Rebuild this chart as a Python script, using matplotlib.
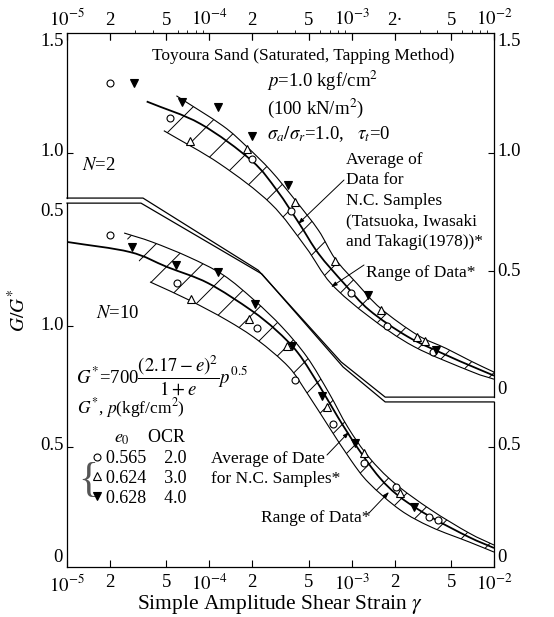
import numpy as np
import matplotlib
matplotlib.use("Agg")
from matplotlib import pyplot as plt
from matplotlib.path import Path
from matplotlib.patches import PathPatch

plt.rcParams['font.family'] = ['Liberation Serif', 'DejaVu Serif']
plt.rcParams['mathtext.fontset'] = 'stix'
plt.rcParams['hatch.linewidth'] = 0.7

# ---------------- values ----------------
# N = 2 (upper panel), G/G* against strain
up_avg_x = [3.63e-5, 8.65e-5, 1.98e-4, 2.99e-4, 4.29e-4, 5.85e-4, 8.85e-4,
            1.33e-3, 2.48e-3, 4.60e-3, 6.95e-3, 1.0e-2]
up_avg_y = [1.215, 1.121, 0.966, 0.840, 0.700, 0.574, 0.448,
            0.336, 0.224, 0.147, 0.100, 0.060]
up_hi_x = [5.87e-5, 1.24e-4, 1.83e-4, 2.70e-4, 4.03e-4, 5.85e-4, 7.64e-4,
           1.09e-3, 1.60e-3, 2.90e-3, 4.60e-3, 6.95e-3, 1.0e-2]
up_hi_y = [1.239, 1.113, 1.025, 0.924, 0.798, 0.672, 0.553,
           0.448, 0.343, 0.231, 0.175, 0.120, 0.075]
up_lo_x = [4.79e-5, 1.18e-4, 2.70e-4, 4.75e-4, 7.16e-4, 1.33e-3, 2.75e-3,
           6.95e-3, 1.0e-2]
up_lo_y = [1.092, 0.953, 0.785, 0.602, 0.448, 0.308, 0.182, 0.077, 0.045]

up_circ_x = [2.0e-5, 5.31e-5, 2.0e-4, 3.77e-4, 9.9e-4, 1.77e-3, 3.71e-3]
up_circ_y = [1.294, 1.146, 0.971, 0.753, 0.410, 0.270, 0.161]
up_tri_x = [7.35e-5, 1.83e-4, 4.03e-4, 7.64e-4, 1.60e-3, 2.90e-3, 3.30e-3]
up_tri_y = [1.050, 1.015, 0.791, 0.543, 0.336, 0.224, 0.206]
up_inv_x = [2.98e-5, 6.41e-5, 1.15e-4, 2.01e-4, 3.58e-4, 1.30e-3, 3.94e-3]
up_inv_y = [1.294, 1.211, 1.190, 1.071, 0.864, 0.399, 0.168]

# N = 10 (lower panel)
lo_avg_x = [1.0e-5, 2.77e-5, 5.05e-5, 9.8e-5, 1.96e-4, 2.94e-4, 4.20e-4,
            6.0e-4, 8.0e-4, 1.09e-3, 1.56e-3, 2.19e-3, 3.61e-3, 6.68e-3, 1.0e-2]
lo_avg_y = [1.349, 1.307, 1.245, 1.178, 1.066, 0.983, 0.888,
            0.747, 0.622, 0.498, 0.373, 0.290, 0.207, 0.124, 0.079]
lo_hi_x = [2.52e-5, 3.95e-5, 7.19e-5, 1.25e-4, 2.06e-4, 3.24e-4, 4.86e-4,
           6.93e-4, 9.38e-4, 1.32e-3, 1.99e-3, 3.61e-3, 6.68e-3, 1.0e-2]
lo_hi_y = [1.386, 1.349, 1.286, 1.212, 1.108, 0.996, 0.871,
           0.722, 0.581, 0.456, 0.349, 0.237, 0.141, 0.091]
lo_lo_x = [3.83e-5, 7.19e-5, 1.32e-4, 2.18e-4, 3.61e-4, 4.86e-4, 6.93e-4,
           9.86e-4, 1.32e-3, 2.19e-3, 3.61e-3, 6.68e-3, 1.0e-2]
lo_lo_y = [1.183, 1.108, 1.025, 0.942, 0.830, 0.722, 0.581,
           0.444, 0.349, 0.237, 0.166, 0.104, 0.062]

lo_circ_x = [2.0e-5, 5.92e-5, 2.15e-4, 4.03e-4, 7.36e-4, 1.23e-3, 2.04e-3,
             3.51e-3, 4.06e-3]
lo_circ_y = [1.378, 1.180, 0.990, 0.776, 0.592, 0.433, 0.333, 0.209, 0.195]
lo_tri_x = [7.41e-5, 1.90e-4, 3.52e-4, 6.76e-4, 1.23e-3, 2.20e-3]
lo_tri_y = [1.111, 1.029, 0.917, 0.665, 0.472, 0.306]
lo_inv_x = [2.85e-5, 5.85e-5, 1.15e-4, 2.09e-4, 3.79e-4, 6.19e-4, 1.05e-3,
            2.72e-3]
lo_inv_y = [1.327, 1.253, 1.225, 1.091, 0.917, 0.710, 0.516, 0.250]

legend_e0 = ["0.565", "0.624", "0.628"]
legend_ocr = ["2.0", "3.0", "4.0"]

x_ticks = [1e-5, 2e-5, 5e-5, 1e-4, 2e-4, 5e-4, 1e-3, 2e-3, 5e-3, 1e-2]
x_bottom_labels = [r"$10^{-5}$", "2", "5", r"$10^{-4}$", "2", "5",
                   r"$10^{-3}$", "2", "5", r"$10^{-2}$"]
x_top_labels = [r"$10^{-5}$", "2", "5", r"$10^{-4}$", "2", "5",
                r"$10^{-3}$", "2·", "5", r"$10^{-2}$"]

# ---------------- layout ----------------
UP_OFF = 0.735   # upper panel is shifted up on the common frame
UP_K = 0.985
Y_TOP = 2.216


def up(v):
    return UP_OFF + UP_K * np.asarray(v)


def px(x, y):
    # picture pixel -> axes fraction
    return ((x - 67) / 427.0, (567 - y) / 534.0)


def curve_verts(xs, ys):
    # smooth cubic pieces through the read points (in log x space)
    lx = np.log10(xs)
    ys = np.asarray(ys, dtype=float)
    p = np.column_stack([lx, ys])
    ext = np.vstack([2 * p[0] - p[1], p, 2 * p[-1] - p[-2]])
    verts = [p[0]]
    for i in range(1, len(ext) - 2):
        c1 = ext[i] + (ext[i + 1] - ext[i - 1]) / 6.0
        c2 = ext[i + 1] - (ext[i + 2] - ext[i]) / 6.0
        verts += [c1, c2, ext[i + 1]]
    verts = np.array(verts)
    verts[:, 0] = 10 ** verts[:, 0]
    return verts


def smooth_line(ax, xs, ys, **kw):
    v = curve_verts(xs, ys)
    codes = [Path.MOVETO] + [Path.CURVE4] * (len(v) - 1)
    ax.add_patch(PathPatch(Path(v, codes), facecolor='none', **kw))


def hatched_band(ax, hx, hy, lx, ly):
    vh = curve_verts(hx, hy)
    vl = curve_verts(lx, ly)[::-1]
    verts = np.vstack([vh, vl, vh[:1]])
    codes = ([Path.MOVETO] + [Path.CURVE4] * (len(vh) - 1) +
             [Path.LINETO] + [Path.CURVE4] * (len(vl) - 1) + [Path.CLOSEPOLY])
    ax.add_patch(PathPatch(Path(verts, codes), facecolor='none',
                           edgecolor='black', hatch='/', lw=0))


fig = plt.figure(figsize=(5.54, 6.17), dpi=100)
ax = fig.add_axes([67 / 554, 50 / 617, 427 / 554, 534 / 617])
ax.set_xscale('log')
ax.set_xlim(1e-5, 1e-2)
ax.set_ylim(0, Y_TOP)
ax.minorticks_off()
for s in ax.spines.values():
    s.set_visible(False)

k = 'black'
# frame, broken by the double separator line
ax.plot([0, 1], [1, 1], transform=ax.transAxes, color=k, lw=0.9, clip_on=False)
ax.plot([0, 1], [0, 0], transform=ax.transAxes, color=k, lw=0.9, clip_on=False)
yt = ax.get_yaxis_transform()
ax.plot([0, 0], [1.531, Y_TOP], transform=yt, color=k, lw=0.9, clip_on=False)
ax.plot([0, 0], [0, 1.510], transform=yt, color=k, lw=0.9, clip_on=False)
ax.plot([1, 1], [0.705, Y_TOP], transform=yt, color=k, lw=0.9, clip_on=False)
ax.plot([1, 1], [0, 0.685], transform=yt, color=k, lw=0.9, clip_on=False)
sep_x1 = [1e-5, 3.42e-5, 2.20e-4, 8.43e-4, 1.72e-3, 1e-2]
sep_y1 = [1.531, 1.531, 1.232, 0.851, 0.705, 0.705]
sep_x2 = [1e-5, 3.31e-5, 2.34e-4, 8.71e-4, 1.72e-3, 1e-2]
sep_y2 = [1.510, 1.510, 1.216, 0.830, 0.685, 0.685]
ax.plot(sep_x1, sep_y1, color=k, lw=0.9, clip_on=False)
ax.plot(sep_x2, sep_y2, color=k, lw=0.9, clip_on=False)

# ranges of data with hatching
for hx, hy, lx, ly in [(up_hi_x, up(up_hi_y), up_lo_x, up(up_lo_y)),
                       (lo_hi_x, lo_hi_y, lo_lo_x, lo_lo_y)]:
    hatched_band(ax, hx, hy, lx, ly)
    smooth_line(ax, hx, hy, edgecolor=k, lw=0.8)
    smooth_line(ax, lx, ly, edgecolor=k, lw=0.8)

# averages of N.C. samples
smooth_line(ax, up_avg_x, up(up_avg_y), edgecolor=k, lw=1.3)
smooth_line(ax, lo_avg_x, lo_avg_y, edgecolor=k, lw=1.3)

# measured points
mk = dict(linestyle='none', color=k, mew=0.8)
ax.plot(up_circ_x, up(up_circ_y), marker='o', ms=5, mfc='white', **mk)
ax.plot(up_tri_x, up(up_tri_y), marker='^', ms=6, mfc='white', **mk)
ax.plot(up_inv_x, up(up_inv_y), marker='v', ms=6, mfc=k, **mk)
h1, = ax.plot(lo_circ_x, lo_circ_y, marker='o', ms=5, mfc='white', **mk)
h2, = ax.plot(lo_tri_x, lo_tri_y, marker='^', ms=6, mfc='white', **mk)
h3, = ax.plot(lo_inv_x, lo_inv_y, marker='v', ms=6, mfc=k, **mk)

# ticks
ax.set_xticks(x_ticks)
ax.set_xticklabels(x_bottom_labels)
ax.tick_params(axis='x', which='both', direction='in', length=5, width=0.8,
               top=True, labelsize=13.5, pad=5)
top = ax.secondary_xaxis('top')
top.set_xticks(x_ticks)
top.set_xticklabels(x_top_labels)
top.tick_params(direction='in', length=5, width=0.8, labelsize=13.5, pad=3)
top.spines['top'].set_visible(False)
ax.set_yticks([up(1.0), 1.0, 0.5])
ax.set_yticklabels([])
ax.tick_params(axis='y', direction='in', length=4, width=0.8)
ax2 = ax.twinx()
ax2.set_ylim(0, Y_TOP)
for s in ax2.spines.values():
    s.set_visible(False)
ax2.set_yticks([up(1.0), up(0.5), 0.5])
ax2.set_yticklabels([])
ax2.tick_params(axis='y', direction='in', length=4, width=0.8)

# y labels of both panels
fs = 13.5
for lab, y in [("1.5", 42), ("1.0", 152), ("0.5", 212), ("1.0", 326),
               ("0.5", 446)]:
    ax.text(*px(64, y), lab, transform=ax.transAxes, ha='right', va='center',
            fontsize=fs)
ax.text(*px(63, 557), "0", transform=ax.transAxes, ha='right', va='center',
        fontsize=fs)
for lab, y in [("1.5", 42), ("1.0", 152), ("0.5", 272), ("0", 389),
               ("0.5", 446), ("0", 557)]:
    ax.text(*px(497, y), lab, transform=ax.transAxes, ha='left', va='center',
            fontsize=fs)

fig.text(18 / 554, 1 - 310 / 617, r"$G/G^{*}$", rotation=90, ha='center',
         va='center', fontsize=14)
fig.text(280 / 554, 1 - 604 / 617, r"Simple Amplitude Shear Strain $\gamma$",
         ha='center', va='center', fontsize=15.5)

# annotations
tf = dict(transform=ax.transAxes, ha='left', va='center', fontsize=12.5)
tb = dict(tf, fontsize=13.5)
ax.text(*px(152, 56), "Toyoura Sand (Saturated, Tapping Method)", **tf)
ax.text(*px(267, 81), r"$p$=1.0 kgf/cm$^2$", **tb)
ax.text(*px(267, 108), r"(100 kN/m$^2$)", **tb)
ax.text(*px(267, 134), r"$\sigma_a/\sigma_r$=1.0,   $\tau_t$=0", **tb)
ax.text(*px(346, 201), "Average of\nData for\nN.C. Samples\n"
        "(Tatsuoka, Iwasaki\nand Takagi(1978))*", linespacing=1.38, **tf)
ax.text(*px(366, 273), "Range of Data*", **tf)
ax.text(*px(82, 165), r"$N$=2", **tb)
ax.text(*px(96, 313), r"$N$=10", **tb)
ax.text(*px(76, 375), r"$G^{*}$=700$\dfrac{(2.17-e)^2}{1+e}p^{0.5}$",
        transform=ax.transAxes, ha='left', va='center', fontsize=13.5)
ax.text(*px(77, 408), r"$G^{*}$, $p$(kgf/cm$^2$)", **tf)
ax.text(*px(211, 469), "Average of Date\nfor N.C. Samples*",
        linespacing=1.38, **tf)
ax.text(*px(261, 518), "Range of Data*", **tf)

arrow = dict(arrowstyle='-|>,head_length=0.35,head_width=0.12', color=k,
             lw=0.7, shrinkA=0, shrinkB=0)
for tail, head in [((344, 180), (298, 224)), ((364, 265), (331, 287)),
                   ((327, 455), (349, 432)), ((369, 513), (389, 492))]:
    ax.annotate('', xy=px(*head), xytext=px(*tail), xycoords='axes fraction',
                textcoords='axes fraction', arrowprops=arrow)

# legend of samples
labels = [e + "    " + o for e, o in zip(legend_e0, legend_ocr)]
leg = ax.legend([h1, h2, h3], labels, title=r"$e_0$    OCR", loc='upper left',
                bbox_to_anchor=px(92, 428), frameon=False, fontsize=13,
                title_fontsize=13, handlelength=0.6, handletextpad=0.15,
                labelspacing=0.15, borderpad=0, borderaxespad=0,
                alignment='right', numpoints=1)
ax.text(*px(88, 481), "{", transform=ax.transAxes, ha='center', va='center',
        fontsize=30, color='#555555')

fig.savefig("out.png", dpi=100)
